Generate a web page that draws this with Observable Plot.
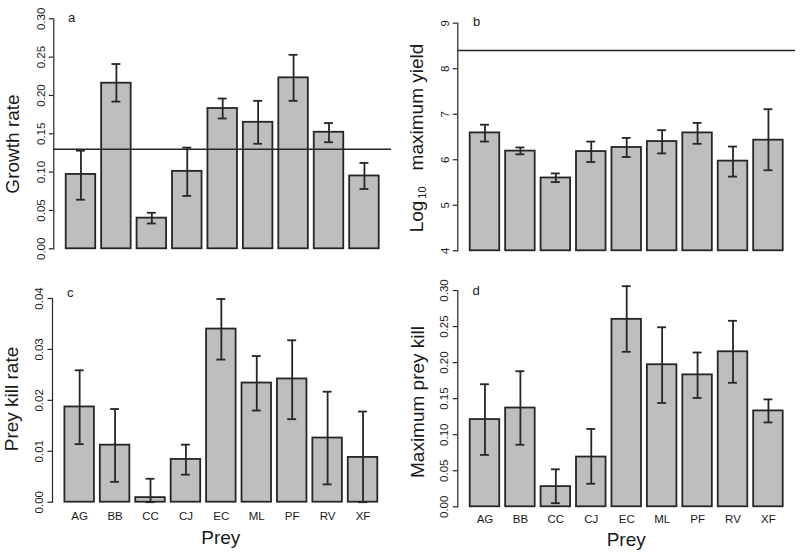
<!DOCTYPE html>
<html><head><meta charset="utf-8">
<script src="https://cdn.jsdelivr.net/npm/d3@7"></script>
<script src="https://cdn.jsdelivr.net/npm/@observablehq/plot@0.6"></script>
<style>
body{margin:0;background:#fff;}
#wrap{position:relative;width:800px;height:556px;font-family:"Liberation Sans",Arial,Helvetica,sans-serif;color:#1a1a1a;overflow:hidden;}
.panel{position:absolute;}
.title{position:absolute;white-space:nowrap;line-height:normal;font-size:19px;}
.rot{transform:translate(-50%,-50%) rotate(-90deg);}
.hor{transform:translate(-50%,-50%);}
.letter{position:absolute;font-size:13px;line-height:normal;transform:translate(-50%,-50%);}
.sub{font-size:11px;line-height:0;vertical-align:-0.3em;margin-left:2px;margin-right:16px;}
</style></head><body><div id="wrap"></div>
<script>
// ---- data ----
const prey = ["AG","BB","CC","CJ","EC","ML","PF","RV","XF"];

const growthRate = [0.097, 0.216, 0.040, 0.101, 0.183, 0.165, 0.223, 0.152, 0.095];
const growthLo   = [0.064, 0.192, 0.033, 0.069, 0.170, 0.137, 0.193, 0.139, 0.078];
const growthHi   = [0.128, 0.241, 0.047, 0.132, 0.196, 0.193, 0.253, 0.164, 0.112];
const growthRef  = 0.13;
const growthTicks = [0, 0.05, 0.10, 0.15, 0.20, 0.25, 0.30];
const growthTickLabels = ["0.00","0.05","0.10","0.15","0.20","0.25","0.30"];

const logYield   = [6.59, 6.19, 5.60, 6.18, 6.27, 6.40, 6.59, 5.97, 6.43];
const logYieldLo = [6.40, 6.12, 5.51, 5.95, 6.06, 6.14, 6.35, 5.63, 5.77];
const logYieldHi = [6.77, 6.27, 5.70, 6.40, 6.48, 6.65, 6.81, 6.29, 7.11];
const logYieldRef = 8.4;
const logYieldBase = 4;
const yieldTicks = [4, 5, 6, 7, 8, 9];
const yieldTickLabels = ["4","5","6","7","8","9"];

const killRate   = [0.0187, 0.0112, 0.0009, 0.0084, 0.0340, 0.0234, 0.0242, 0.0126, 0.0088];
const killRateLo = [0.0114, 0.0040, -0.0029, 0.0054, 0.0280, 0.0180, 0.0163, 0.0035, -0.0001];
const killRateHi = [0.0259, 0.0183, 0.0046, 0.0113, 0.0399, 0.0287, 0.0318, 0.0217, 0.0178];
const killTicks = [0, 0.01, 0.02, 0.03, 0.04];
const killTickLabels = ["0.00","0.01","0.02","0.03","0.04"];

const maxKill   = [0.121, 0.137, 0.028, 0.069, 0.260, 0.197, 0.183, 0.215, 0.133];
const maxKillLo = [0.072, 0.086, 0.005, 0.032, 0.215, 0.144, 0.151, 0.172, 0.117];
const maxKillHi = [0.170, 0.188, 0.052, 0.108, 0.306, 0.249, 0.214, 0.258, 0.149];
const maxKillTicks = [0, 0.05, 0.10, 0.15, 0.20, 0.25, 0.30];
const maxKillTickLabels = ["0.00","0.05","0.10","0.15","0.20","0.25","0.30"];

// ---- drawing ----
const INK = "#262626";
const wrap = document.getElementById("wrap");

function makePanel(o) {
  const data = prey.map((p, i) => ({prey: p, v: o.values[i], lo: o.lo[i], hi: o.hi[i]}));
  const marks = [
    Plot.barY(data, {x: "prey", y1: o.base, y2: "v", fill: "#bebebe", stroke: INK, strokeWidth: 1.8, inset: 0}),
    Plot.ruleX(data, {x: "prey", y1: "lo", y2: "hi", stroke: INK, strokeWidth: 1.8}),
    Plot.tickY(data, {x: "prey", y: "hi", stroke: INK, strokeWidth: 1.8, insetLeft: 10.3, insetRight: 10.3}),
    Plot.tickY(data, {x: "prey", y: "lo", stroke: INK, strokeWidth: 1.8, insetLeft: 10.3, insetRight: 10.3}),
    Plot.axisY(o.ticks, {tickSize: 4.5, tickFormat: () => "", label: null, stroke: INK, strokeWidth: 1.2}),
    Plot.text(o.ticks, {y: d => d, text: (d, i) => o.tickLabels[i], frameAnchor: "left", textAnchor: "middle", lineAnchor: "middle", dx: o.tdx, rotate: -90, fontSize: 11.5, fill: "#1a1a1a"}),
    Plot.frame({anchor: "left", stroke: INK, strokeWidth: 1.2})
  ];
  if (o.ref != null) marks.push(Plot.ruleY([o.ref], {stroke: INK, strokeWidth: 1.5}));
  if (o.xaxis) marks.push(Plot.axisX({tickSize: 0, tickPadding: o.tp, fontSize: 11.5, label: null, fill: "#1a1a1a"}));
  const svg = Plot.plot({
    width: 400, height: o.h,
    marginLeft: o.mL, marginRight: o.mR, marginTop: o.mT, marginBottom: o.mB,
    x: {domain: prey, paddingInner: 1/6, paddingOuter: 0.35, round: false, axis: o.xaxis ? undefined : null},
    y: {domain: o.domain, clamp: !!o.clamp},
    style: {fontFamily: '"Liberation Sans", Arial, Helvetica, sans-serif', background: "transparent", overflow: "visible", color: "#1a1a1a"},
    marks
  });
  const div = document.createElement("div");
  div.className = "panel";
  div.style.left = o.left + "px";
  div.style.top = o.top + "px";
  div.appendChild(svg);
  wrap.appendChild(div);
}

makePanel({left: 0, top: 0, h: 270, mL: 53.3, mR: 8.9, mT: 18.3, mB: 21.7, domain: [0, 0.30], base: 0,
  values: growthRate, lo: growthLo, hi: growthHi, ref: growthRef, ticks: growthTicks, tickLabels: growthTickLabels, tdx: -12});
makePanel({left: 400, top: 0, h: 270, mL: 57.3, mR: 4.9, mT: 22.7, mB: 19.7, domain: [4, 9], base: logYieldBase,
  values: logYield, lo: logYieldLo, hi: logYieldHi, ref: logYieldRef, ticks: yieldTicks, tickLabels: yieldTickLabels, tdx: -12.3});
makePanel({left: 0, top: 270, h: 286, mL: 52, mR: 10.3, mT: 28, mB: 54.3, domain: [0, 0.04], base: 0, clamp: true,
  values: killRate, lo: killRateLo, hi: killRateHi, ticks: killTicks, tickLabels: killTickLabels, tdx: -13, xaxis: true, tp: 9.4});
makePanel({left: 400, top: 270, h: 286, mL: 57.3, mR: 4.9, mT: 20, mB: 49.7, domain: [0, 0.30], base: 0,
  values: maxKill, lo: maxKillLo, hi: maxKillHi, ticks: maxKillTicks, tickLabels: maxKillTickLabels, tdx: -13, xaxis: true, tp: 7.9});

function label(html, x, y, cls) {
  const d = document.createElement("div");
  d.className = cls;
  d.innerHTML = html;
  d.style.left = x + "px";
  d.style.top = y + "px";
  wrap.appendChild(d);
}
label("Growth rate", 12.5, 144, "title rot");
label('Log<span class="sub">10</span>maximum yield', 417, 137.5, "title rot");
label("Prey kill rate", 12.2, 399.2, "title rot");
label("Maximum prey kill", 417.5, 401.7, "title rot");
label("Prey", 220.8, 538.3, "title hor");
label("Prey", 626.2, 539.7, "title hor");
label("a", 71.7, 16.5, "letter");
label("b", 476.7, 21, "letter");
label("c", 70.3, 292.3, "letter");
label("d", 476, 289.5, "letter");
</script></body></html>
